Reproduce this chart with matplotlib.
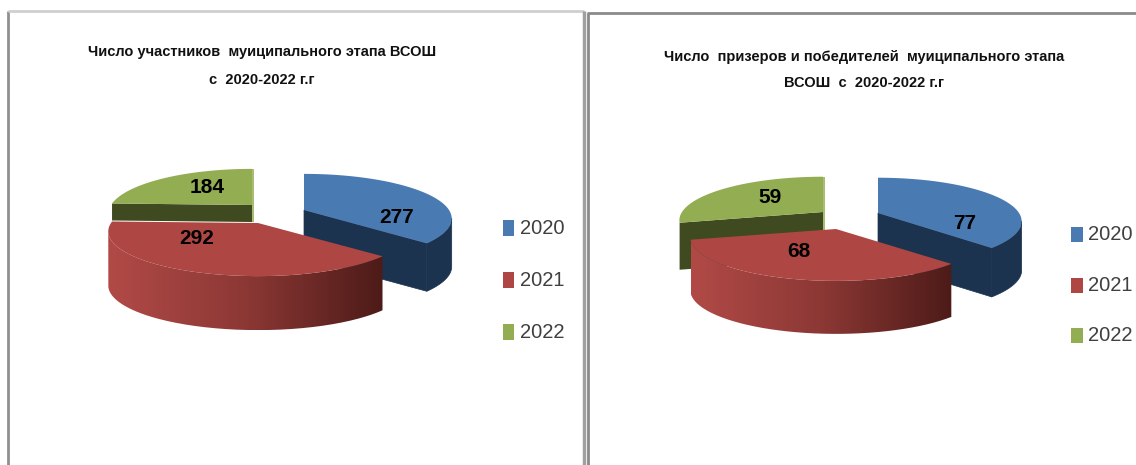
import numpy as np
import matplotlib
matplotlib.use('Agg')
import matplotlib.pyplot as plt
from matplotlib.patches import Polygon, Rectangle, PathPatch
from matplotlib.path import Path
from matplotlib.colors import LinearSegmentedColormap

years = ['2020', '2021', '2022']
participants = [277, 292, 184]
winners = [77, 68, 59]
title_left = ['Число участников  муиципального этапа ВСОШ', 'с  2020-2022 г.г']
title_right = ['Число  призеров и победителей  муиципального этапа', 'ВСОШ  с  2020-2022 г.г']

FONT = ['Liberation Sans', 'DejaVu Sans']
TOP_COLORS = ['#4a7ab2', '#ae4744', '#93ad52']
CUT_COLORS = ['#1c3350', '#5a1f1d', '#3f4a20']
RED_WALL = LinearSegmentedColormap.from_list('red_wall', ['#b14a47', '#8c3835', '#4d1b18'])

# perspective of the 3d pie
PERSP = 5.25


def project(theta, apex, radius, squash):
    X = np.cos(theta)
    Y = np.sin(theta)
    f = PERSP / (PERSP + Y)
    return np.column_stack([apex[0] + radius * X * f, apex[1] - squash * Y * f])


def draw_pie(ax, values, apexes, radii, squash, depths):
    # slices go clockwise from 12 o'clock
    fracs = np.array(values) / sum(values)
    edges = np.pi / 2 - 2 * np.pi * np.concatenate([[0], np.cumsum(fracs)])
    arcs = []
    for i in range(3):
        th = np.linspace(edges[i], edges[i + 1], 160)
        arcs.append(project(th, apexes[i], radii[i], squash))

    # green first, it sits behind everything
    arc = arcs[2]
    d = depths[2]
    ax.add_patch(Polygon([arc[0], apexes[2], (apexes[2][0], apexes[2][1] + d), (arc[0][0], arc[0][1] + d)],
                         fc=CUT_COLORS[2], ec='none', zorder=2))
    ax.add_patch(Polygon([arc[-1], (arc[-1][0] + 2, arc[-1][1]), (apexes[2][0] + 2, apexes[2][1] + d),
                          (apexes[2][0], apexes[2][1] + d), apexes[2]],
                         fc='#a9bd72', ec='none', zorder=2))
    ax.add_patch(Polygon(np.vstack([[apexes[2]], arc]), fc=TOP_COLORS[2], ec='none', zorder=3))

    # blue
    arc = arcs[0]
    d = depths[0]
    k = np.argmax(arc[:, 0])
    wall = np.vstack([arc[k:], (arc[k:] + [0, d])[::-1]])
    ax.add_patch(Polygon(wall, fc=CUT_COLORS[0], ec=CUT_COLORS[0], lw=0.5, zorder=4))
    ax.add_patch(Polygon([apexes[0], arc[-1], arc[-1] + [0, d], (apexes[0][0], apexes[0][1] + d)],
                         fc=CUT_COLORS[0], ec=CUT_COLORS[0], lw=0.5, zorder=4))
    ax.add_patch(Polygon(np.vstack([[apexes[0]], arc]), fc=TOP_COLORS[0], ec='none', zorder=5))

    # red, wall has the left to right shading and starts at the leftmost point
    arc = arcs[1]
    d = depths[1]
    k = np.argmin(arc[:, 0])
    front = arc[:k + 1]
    wall = np.vstack([front, (front + [0, d])[::-1]])
    x0, x1 = wall[:, 0].min(), wall[:, 0].max()
    y0, y1 = wall[:, 1].min(), wall[:, 1].max()
    grad = np.linspace(0, 1, 256).reshape(1, -1)
    im = ax.imshow(grad, extent=[x0, x1, y1, y0], cmap=RED_WALL, aspect='auto', zorder=6)
    im.set_clip_path(PathPatch(Path(np.vstack([wall, wall[:1]])), transform=ax.transData))
    ax.add_patch(Polygon(np.vstack([[apexes[1]], arc]), fc=TOP_COLORS[1], ec='none', zorder=7))


def draw_legend(ax, box_x, text_x, rows, box_w, box_h):
    for i, y in enumerate(rows):
        ax.add_patch(Rectangle((box_x, y - box_h / 2), box_w, box_h, fc=TOP_COLORS[i], ec='none', zorder=8))
        ax.text(text_x, y, years[i], family=FONT, fontsize=14.5, color='#404040', ha='left', va='center', zorder=8)


fig = plt.figure(figsize=(11.36, 4.65), dpi=100)
ax = fig.add_axes([0, 0, 1, 1])
ax.set_xlim(0, 1136)
ax.set_ylim(465, 0)
ax.axis('off')

# window frames
ax.plot([8, 8], [465, 11], color='#8f8f8f', lw=2, solid_capstyle='butt')
ax.plot([8, 584], [11, 11], color='#cfcfcf', lw=2, solid_capstyle='butt')
ax.plot([584, 584], [11, 465], color='#a0a0a0', lw=2.5, solid_capstyle='butt')
ax.plot([587.5, 587.5], [13, 465], color='#8a8a8a', lw=2, solid_capstyle='butt')
ax.plot([587, 1136], [13.5, 13.5], color='#8a8a8a', lw=2, solid_capstyle='butt')

# left chart
draw_pie(ax, participants, [(304, 210), (258, 223), (252, 205)], [145, 147, 141], 43, [48, 54, 17])
draw_legend(ax, 503, 520, [228, 280, 332], 11, 16)
for txt, y in zip(title_left, [52, 80]):
    ax.text(262, y, txt, family=FONT, fontsize=10.5, fontweight='bold', ha='center', va='center', color='#111111')
for val, x, y in zip(participants, [397, 197, 207], [217, 238, 187]):
    ax.text(x, y, str(val), family=FONT, fontsize=15, fontweight='bold', ha='center', va='center', color='black', zorder=9)

# right chart
draw_pie(ax, winners, [(878, 213), (836, 229), (823, 212)], [141, 143, 141], 42, [49, 53, 47])
draw_legend(ax, 1071, 1088, [234, 285, 335], 12, 15)
for txt, y in zip(title_right, [57, 83]):
    ax.text(864, y, txt, family=FONT, fontsize=10.5, fontweight='bold', ha='center', va='center', color='#111111')
for val, x, y in zip(winners, [965, 799, 770], [223, 251, 197]):
    ax.text(x, y, str(val), family=FONT, fontsize=15, fontweight='bold', ha='center', va='center', color='black', zorder=9)

fig.savefig('out.png', dpi=100)
